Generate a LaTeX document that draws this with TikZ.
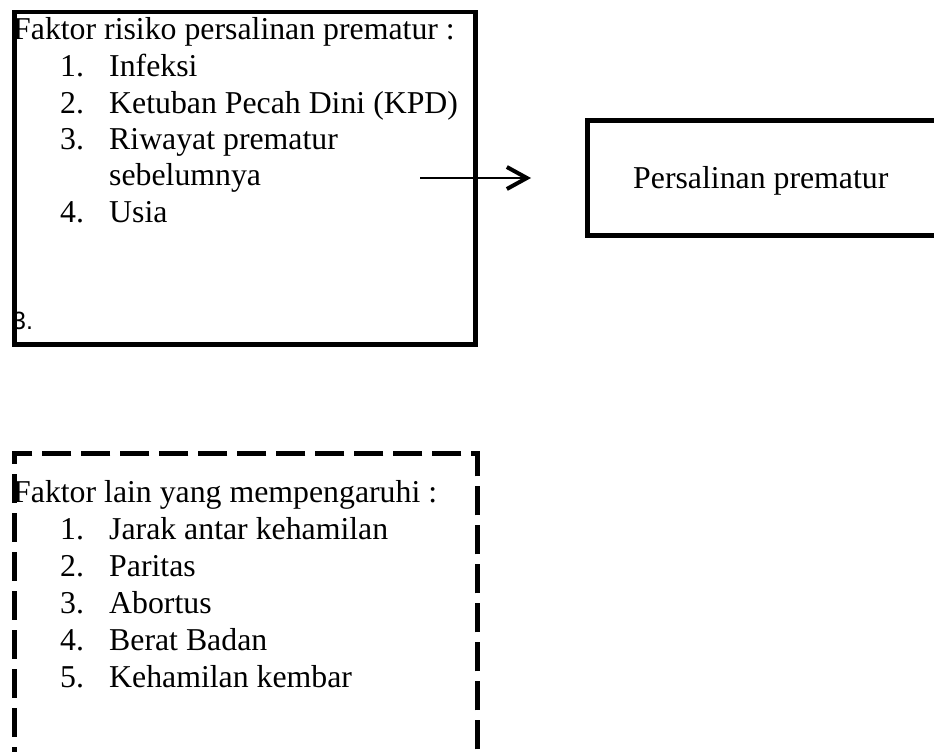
\documentclass[tikz,border=0pt]{standalone}
\usepackage{fontspec}
\setmainfont{Liberation Serif}
\newfontfamily\arialfont{Liberation Sans}
\usetikzlibrary{arrows.meta}
\begin{document}
\begin{tikzpicture}[x=1pt,y=-1pt,
  boxsolid/.style={draw, line width=4.5pt, inner sep=0pt, anchor=north west},
  boxdash/.style={draw, line width=4.5pt, inner sep=0pt, anchor=north west, dash pattern=on 29pt off 10pt},
  txt/.style={anchor=base west, inner sep=0pt, font=\fontsize{31.8}{36}\selectfont},
  num/.style={anchor=base west, inner sep=0pt, font=\fontsize{31.8}{36}\selectfont}
]
\useasboundingbox (0,0) rectangle (934,752);
\clip (0,0) rectangle (934,752);
% boxes
\node[boxsolid, minimum width=461pt, minimum height=332pt] (risk) at (12,10) {};
\node[boxsolid, minimum width=380pt, minimum height=115pt] (out) at (585,118) {};
\node[boxdash, minimum width=463pt, minimum height=301pt] (other) at (12,451) {};
% texts box 1
\node[txt] (t0) at (13,40) {Faktor risiko persalinan prematur :};
\node[num] (n1) at (60,77) {1.};
\node[txt] (t1) at (109,77) {Infeksi};
\node[num] (n2) at (60,113) {2.};
\node[txt] (t2) at (109,113) {Ketuban Pecah Dini (KPD)};
\node[num] (n3) at (60,149) {3.};
\node[txt] (t3) at (109,149) {Riwayat prematur};
\node[txt] (t3b) at (109,185) {sebelumnya};
\node[num] (n4) at (60,222) {4.};
\node[txt] (t4) at (109,222) {Usia};
\node[anchor=base west, inner sep=0pt, font=\arialfont\fontsize{25}{30}\selectfont] (s3) at (12,329) {3.};
% output text
\node[txt] (ot) at (633,188) {Persalinan prematur};
% arrow
\coordinate (a1) at (420,178);
\coordinate (a2) at (531,178);
\draw[line width=1.6pt, -{Straight Barb[length=20pt, width=22pt, line width=4pt]}] (a1) -- (a2);
% texts dashed box
\node[txt] (u0) at (13,502) {Faktor lain yang mempengaruhi :};
\node[num] (m1) at (60,539) {1.};
\node[txt] (u1) at (109,539) {Jarak antar kehamilan};
\node[num] (m2) at (60,576) {2.};
\node[txt] (u2) at (109,576) {Paritas};
\node[num] (m3) at (60,613) {3.};
\node[txt] (u3) at (109,613) {Abortus};
\node[num] (m4) at (60,650) {4.};
\node[txt] (u4) at (109,650) {Berat Badan};
\node[num] (m5) at (60,687) {5.};
\node[txt] (u5) at (109,687) {Kehamilan kembar};
\end{tikzpicture}
\end{document}
